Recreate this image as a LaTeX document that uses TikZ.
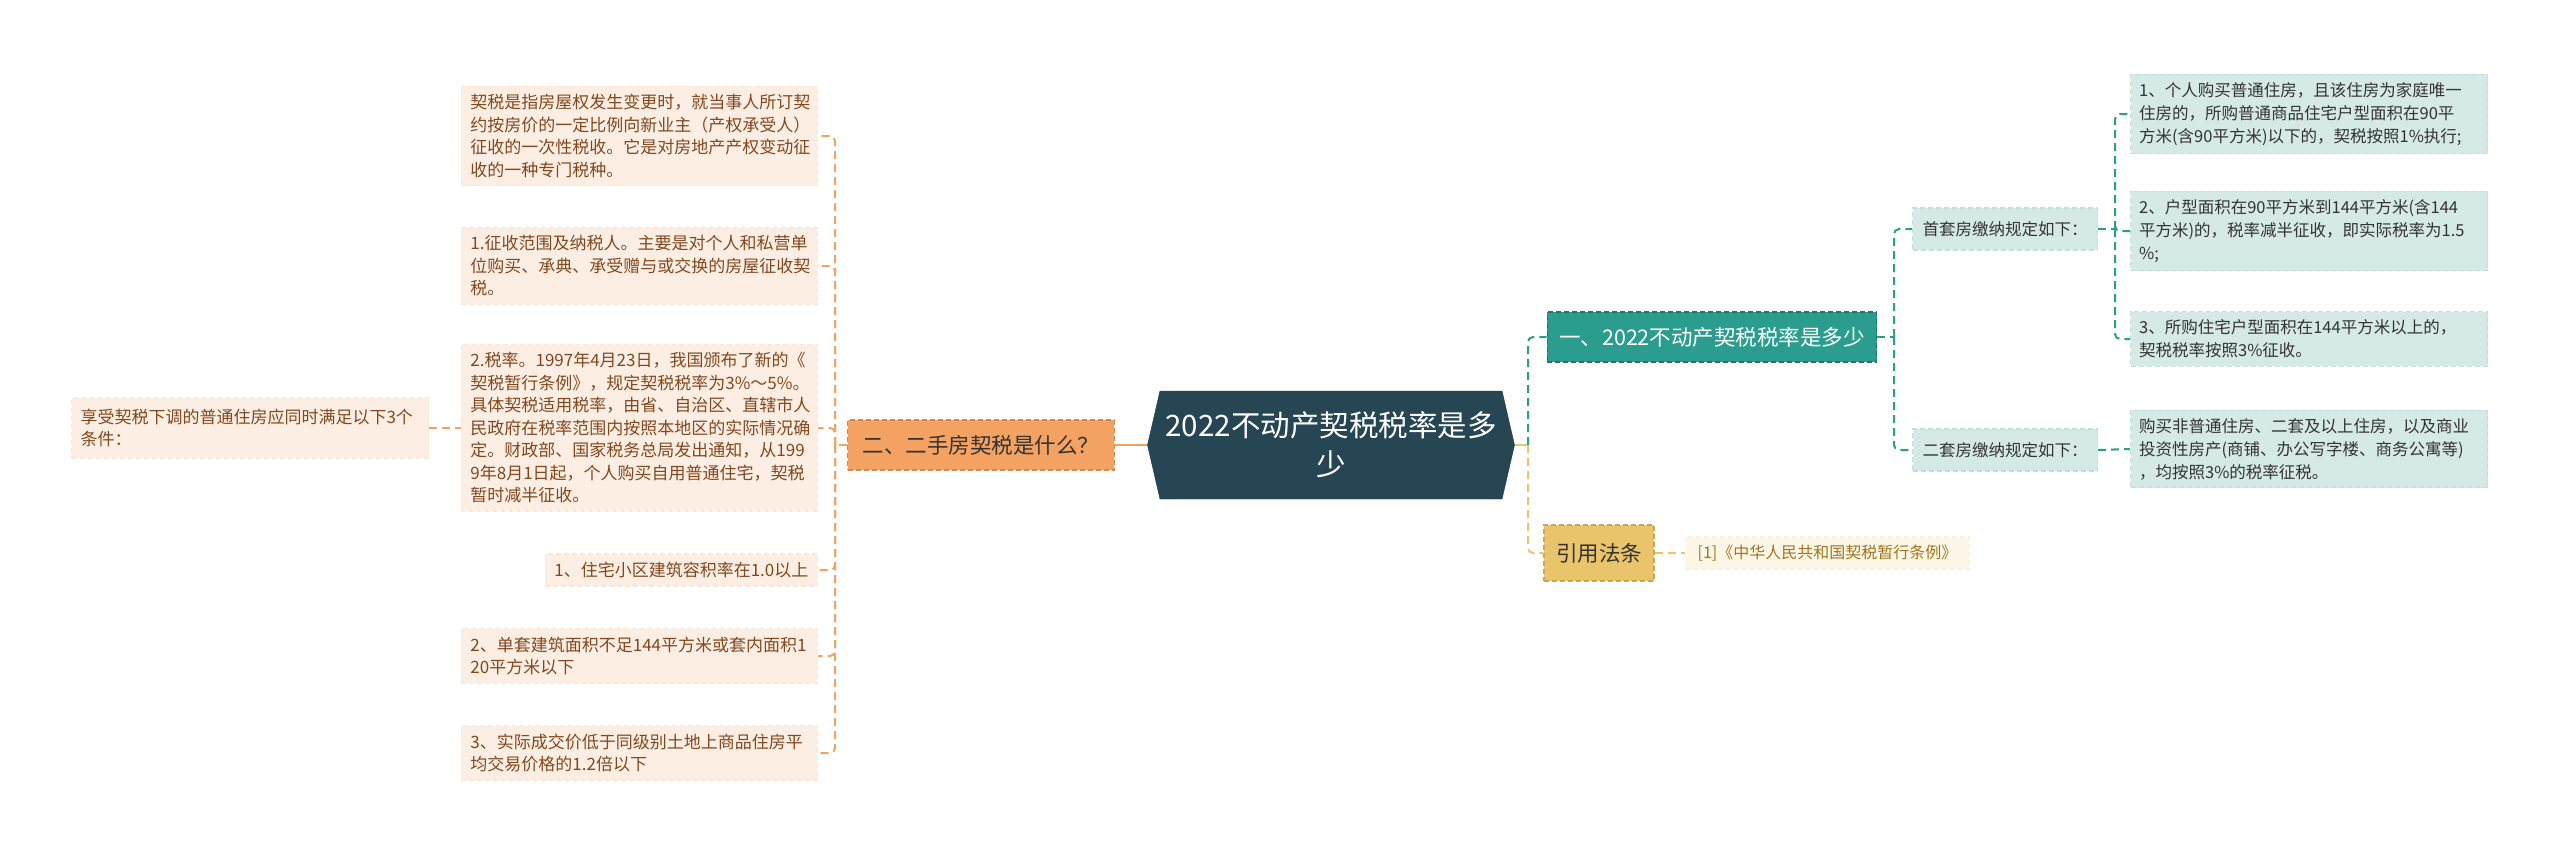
\documentclass[tikz,border=0pt]{standalone}
\usepackage{fontspec}
\setmainfont{Noto Sans CJK SC}
\definecolor{mmnavy}{RGB}{38,70,83}
\definecolor{mmteal}{RGB}{42,157,143}
\definecolor{mmgold}{RGB}{233,196,106}
\definecolor{mmorange}{RGB}{244,162,97}
\definecolor{mmmint}{RGB}{213,234,231}
\definecolor{mmpeach}{RGB}{253,238,227}
\definecolor{mmcream}{RGB}{252,246,230}
\definecolor{mmbrown}{RGB}{128,72,30}
\definecolor{mmolive}{RGB}{160,118,28}
\definecolor{mmtext}{RGB}{51,51,51}
\usetikzlibrary{shapes.symbols,positioning}
\tikzset{
  box/.style={line width=1.2pt,dash pattern=on 5pt off 3pt,inner ysep=8pt},
  leafL/.style={box,draw=mmpeach!88!mmorange,fill=mmpeach,text=mmbrown,align=left,
    font=\fontsize{17}{22.5}\selectfont,inner xsep=9pt},
  leafR/.style={box,draw=mmmint!88!mmteal,fill=mmmint,text=mmtext,align=left,
    font=\fontsize{16.5}{23}\selectfont,inner xsep=8.5pt,text width=340pt,anchor=west},
  topic/.style={box,font=\fontsize{21.5}{26}\selectfont,minimum height=50pt,inner xsep=12pt},
  sub/.style={box,draw=mmmint!88!mmteal,fill=mmmint,text=mmtext,
    font=\fontsize{16.5}{20}\selectfont,minimum height=42pt,inner xsep=10pt},
  conn/.style={line width=2pt,dash pattern=on 8pt off 5pt,rounded corners=5pt},
  tline/.style={conn,draw=mmteal},
  gline/.style={conn,draw=mmgold},
  oline/.style={conn,draw=mmorange}
}
\begin{document}
\begin{tikzpicture}[x=1pt,y=-1pt]
  \useasboundingbox (0,0) rectangle (2560,857);
  \node[shape=signal,signal to=west and east,signal pointer angle=154,fill=mmnavy,draw=mmnavy!80!black,
    text=white,font=\fontsize{29.5}{39}\selectfont,align=center,minimum width=367pt,minimum height=108pt,
    inner sep=0pt] (root) at (1331,445) {2022不动产契税税率是多\\少};
  % right side
  \node[topic,fill=mmteal,draw=mmteal!75!black,text=white] (t1) at (1712,337) {一、2022不动产契税税率是多少};
  \node[topic,fill=mmgold,draw=mmgold!85!black,text=mmtext,minimum height=56pt] (t2) at (1599,553) {引用法条};
  \node[box,draw=mmcream!90!mmgold,fill=mmcream,text=mmolive,font=\fontsize{16}{20}\selectfont,
    inner xsep=12pt,anchor=west] (cite) at (1685,553) {[1]《中华人民共和国契税暂行条例》};
  \node[sub] (s1) at (2005,229) {首套房缴纳规定如下：};
  \node[sub] (s2) at (2005,450) {二套房缴纳规定如下：};
  \node[leafR] (r1) at (2130,114) {1、个人购买普通住房，且该住房为家庭唯一\\住房的，所购普通商品住宅户型面积在90平\\方米(含90平方米)以下的，契税按照1\%执行;};
  \node[leafR] (r2) at (2130,231) {2、户型面积在90平方米到144平方米(含144\\平方米)的，税率减半征收，即实际税率为1.5\\\%;};
  \node[leafR] (r3) at (2130,339) {3、所购住宅户型面积在144平方米以上的，\\契税税率按照3\%征收。};
  \node[leafR] (r4) at (2130,449) {购买非普通住房、二套及以上住房，以及商业\\投资性房产(商铺、办公写字楼、商务公寓等)\\，均按照3\%的税率征税。};
  % left side
  \node[topic,fill=mmorange,draw=mmorange!85!black,text=mmtext,inner xsep=15pt] (t3) at (981,445) {二、二手房契税是什么？};
  \node[leafL,anchor=east,text width=338pt] (la) at (818,136) {契税是指房屋权发生变更时，就当事人所订契\\约按房价的一定比例向新业主（产权承受人）\\征收的一次性税收。它是对房地产产权变动征\\收的一种专门税种。};
  \node[leafL,anchor=east,text width=338pt] (lb) at (818,266) {1.征收范围及纳税人。主要是对个人和私营单\\位购买、承典、承受赠与或交换的房屋征收契\\税。};
  \node[leafL,anchor=east,text width=338pt] (lc) at (818,428) {2.税率。1997年4月23日，我国颁布了新的《\\契税暂行条例》，规定契税税率为3\%～5\%。\\具体契税适用税率，由省、自治区、直辖市人\\民政府在税率范围内按照本地区的实际情况确\\定。财政部、国家税务总局发出通知，从199\\9年8月1日起，个人购买自用普通住宅，契税\\暂时减半征收。};
  \node[leafL,anchor=east] (ld) at (818,570) {1、住宅小区建筑容积率在1.0以上};
  \node[leafL,anchor=east,text width=338pt] (le) at (818,656) {2、单套建筑面积不足144平方米或套内面积1\\20平方米以下};
  \node[leafL,anchor=east,text width=338pt] (lf) at (818,753) {3、实际成交价低于同级别土地上商品住房平\\均交易价格的1.2倍以下};
  \node[leafL,text width=339pt,inner ysep=11pt] (lx) at (250,428) {享受契税下调的普通住房应同时满足以下3个\\条件：};
  % connectors
  \coordinate (jr) at (1528,445);
  \coordinate (jt) at (1894,337);
  \coordinate (js) at (2115,229);
  \coordinate (jl) at (835,445);
  \draw[gline,solid] (root.east) -- (jr);
  \draw[tline] (jr) |- (t1.west);
  \draw[gline] (jr) |- (t2.west);
  \draw[gline] (t2.east) -- (cite.west);
  \draw[tline] (t1.east) -- (jt);
  \draw[tline] (jt) |- (s1.west);
  \draw[tline] (jt) |- (s2.west);
  \draw[tline] (s1.east) -- (js);
  \foreach \n in {r1,r2,r3} \draw[tline] (js) |- (\n.west);
  \draw[tline] (s2.east) -- (r4.west);
  \draw[oline,solid] (root.west) -- (t3.east);
  \draw[oline] (t3.west) -- (jl);
  \foreach \n in {la,lb,lc,ld,le,lf} \draw[oline] (jl) |- (\n.east);
  \draw[oline] (lx.east) -- (lc.west);
\end{tikzpicture}
\end{document}
